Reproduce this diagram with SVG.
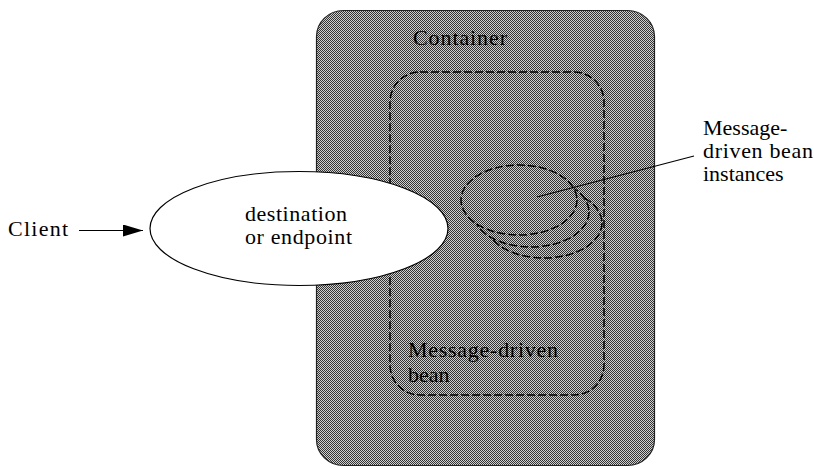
<svg xmlns="http://www.w3.org/2000/svg" width="814" height="468" viewBox="0 0 814 468">
<style>
text{font-family:"Liberation Serif","Times New Roman",serif;font-size:22px;fill:#000}
.dash{fill:none;stroke:#000;stroke-width:1.5;stroke-dasharray:8 3}
.hdash{fill:url(#hatch);stroke:#000;stroke-width:1.5;stroke-dasharray:8 3}
.line{stroke:#000;stroke-width:1.2;fill:none}
</style>
<defs>
<pattern id="hatch" width="2" height="2" patternUnits="userSpaceOnUse">
<rect width="2" height="2" fill="#cfcfcf"/>
<rect x="0" y="0" width="1" height="1" fill="#333"/>
<rect x="1" y="1" width="1" height="1" fill="#333"/>
</pattern>
<marker id="arrow" viewBox="0 0 20 12" refX="20" refY="6" markerWidth="20" markerHeight="12" markerUnits="userSpaceOnUse" orient="auto">
<path d="M0,0 L20,6 L0,12 Z" fill="#000"/>
</marker>
</defs>
<g id="container">
<rect x="316.5" y="10.5" width="338" height="455" rx="27" ry="26" fill="url(#hatch)" stroke="#222" stroke-width="1.2"/>
<text x="413" y="45" textLength="94">Container</text>
</g>
<g id="message-driven-bean">
<rect x="390" y="72" width="214" height="323" rx="30" ry="30" class="dash"/>
<text x="408" y="357" textLength="150">Message-driven</text>
<text x="408" y="382">bean</text>
</g>
<g id="instances">
<ellipse cx="544" cy="223" rx="58" ry="35" class="hdash"/>
<ellipse cx="531" cy="212" rx="58" ry="35" class="hdash"/>
<ellipse cx="519" cy="200" rx="58" ry="35" class="hdash"/>
</g>
<g id="destination">
<ellipse cx="299" cy="228.5" rx="149" ry="57" fill="#fff" stroke="#000" stroke-width="1.2"/>
<text x="245" y="221" textLength="102">destination</text>
<text x="245" y="244" textLength="107">or endpoint</text>
</g>
<g id="client">
<text x="8" y="236" textLength="60">Client</text>
</g>
<g id="instances-label">
<text x="703" y="135">Message-</text>
<text x="703" y="158" textLength="110">driven bean</text>
<text x="703" y="181">instances</text>
</g>
<g id="connectors">
<line x1="79" y1="230.5" x2="143" y2="230.5" class="line" marker-end="url(#arrow)"/>
<line x1="537" y1="197" x2="694" y2="156" class="line"/>
</g>
</svg>
